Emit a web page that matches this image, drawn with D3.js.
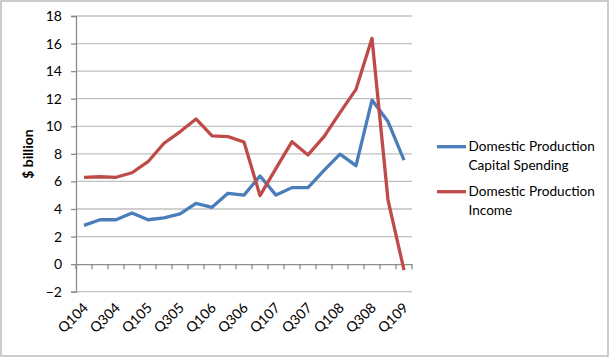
<!DOCTYPE html>
<html><head><meta charset="utf-8">
<script src="https://cdn.jsdelivr.net/npm/d3@7"></script>
<style>
html,body{margin:0;padding:0;background:#fff;}
svg{display:block;font-family:Lato,"Open Sans",sans-serif;}
</style></head>
<body>
<svg id="c" width="610" height="358"></svg>
<script>
const quarters = ["Q104","Q204","Q304","Q404","Q105","Q205","Q305","Q405","Q106","Q206","Q306","Q406","Q107","Q207","Q307","Q407","Q108","Q208","Q308","Q408","Q109"];
const capitalSpending = [2.81,3.22,3.22,3.71,3.22,3.35,3.64,4.41,4.12,5.14,5.01,6.39,5.01,5.55,5.55,6.8,7.98,7.14,11.9,10.34,7.55];
const income = [6.3,6.34,6.3,6.63,7.43,8.77,9.6,10.53,9.3,9.25,8.86,4.97,6.95,8.88,7.92,9.25,10.99,12.68,16.38,4.65,-0.43];
const yTicks = [-2,0,2,4,6,8,10,12,14,16,18];
const seriesNames = [["Domestic Production","Capital Spending"],["Domestic Production","Income"]];
const colors = ["#4a7ebb","#be4b48"];

const svg = d3.select("#c");
svg.append("rect").attr("x",1).attr("y",1).attr("width",607).attr("height",355)
  .attr("fill","#fff").attr("stroke","#bcbcbc").attr("stroke-width",1.5);

const L=76, R=412, T=16, B=291.7;
const x = d3.scaleBand().domain(quarters).range([L,R]);
const y = d3.scaleLinear().domain([-2,18]).range([B,T]);
const cx = q => x(q)+x.bandwidth()/2;

// gridlines
svg.append("g").selectAll("line").data(yTicks.filter(v=>v!==0)).join("line")
  .attr("x1",L).attr("x2",R).attr("y1",d=>y(d)).attr("y2",d=>y(d))
  .attr("stroke","#c0c0c0").attr("stroke-width",1.3);

// y axis
const ya = svg.append("g").attr("transform",`translate(${L},0)`)
  .call(d3.axisLeft(y).tickValues(yTicks).tickSize(5).tickPadding(9));
ya.select(".domain").attr("stroke","#8c8c8c").attr("stroke-width",1.3);
ya.selectAll(".tick line").attr("stroke","#8c8c8c").attr("stroke-width",1.3);
ya.selectAll("text").attr("font-size",14).attr("fill","#000").attr("font-family","Lato");

// x axis at zero
const xa = svg.append("g").attr("transform",`translate(0,${y(0)})`)
  .call(d3.axisBottom(x).tickValues([]).tickSizeOuter(0));
xa.select(".domain").attr("stroke","#8c8c8c").attr("stroke-width",1.3);
const bounds = quarters.map(q=>x(q)).concat([R]);
xa.selectAll("line.tk").data(bounds).join("line").attr("class","tk")
  .attr("x1",d=>d).attr("x2",d=>d).attr("y1",0).attr("y2",5)
  .attr("stroke","#8c8c8c").attr("stroke-width",1.3);

// x labels
svg.append("g").selectAll("text").data(quarters.filter((q,i)=>i%2===0)).join("text")
  .attr("transform",d=>`translate(${cx(d)+5},${B+17}) rotate(-45)`)
  .attr("text-anchor","end").attr("font-size",14).attr("fill","#000")
  .text(d=>d);

// y title
svg.append("text").attr("transform","translate(33,154) rotate(-90)")
  .attr("text-anchor","middle").attr("font-size",14).attr("font-weight","bold")
  .text("$ billion");

// lines
const line = d3.line().x((d,i)=>cx(quarters[i])).y(d=>y(d));
[capitalSpending,income].forEach((s,k)=>{
  svg.append("path").datum(s).attr("d",line).attr("fill","none")
    .attr("stroke",colors[k]).attr("stroke-width",3.3)
    .attr("stroke-linejoin","round").attr("stroke-linecap","butt");
});

// legend
const legY = [146.7,191.7];
seriesNames.forEach((n,k)=>{
  const g = svg.append("g");
  g.append("line").attr("x1",437).attr("x2",466).attr("y1",legY[k]).attr("y2",legY[k])
    .attr("stroke",colors[k]).attr("stroke-width",3.3);
  n.forEach((t,j)=>{
    g.append("text").attr("x",468.5).attr("y",legY[k]+j*18.5).attr("dy","0.35em")
      .attr("font-size",13.6).attr("fill","#000").text(t);
  });
});
</script>
</body></html>
